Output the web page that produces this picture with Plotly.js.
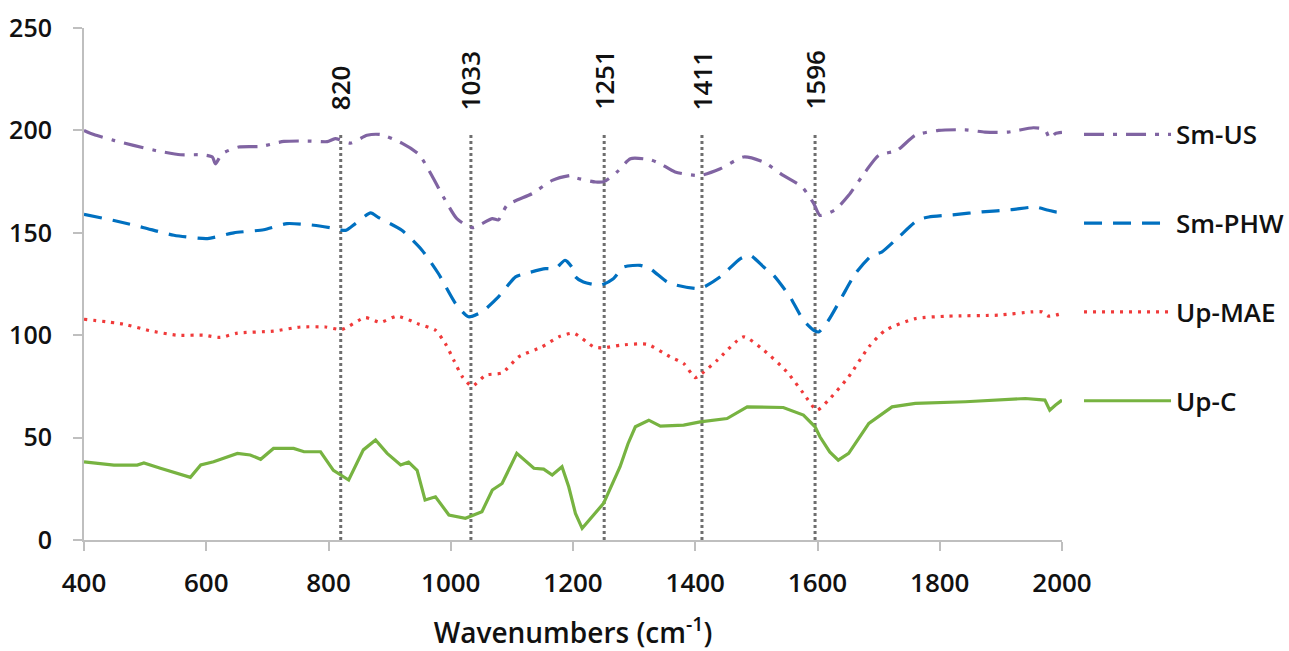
<!DOCTYPE html>
<html>
<head>
<meta charset="utf-8">
<script src="https://cdn.plot.ly/plotly-3.0.1.min.js"></script>
<style>html,body{margin:0;padding:0;background:#fff;}#chart{width:1289px;height:651px;}</style>
</head>
<body>
<div id="chart"></div>
<script>
// ---- data ----
var seriesNames = ["Sm-US", "Sm-PHW", "Up-MAE", "Up-C"];

var smUS_x = [400,416,450,481,517,558,593,610,615,626,653,689,727,770,798,811,836,863,885,920,948,969,988,1010,1035,1068,1078,1092,1133,1166,1198,1201,1237,1251,1272,1294,1326,1343,1367,1408,1441,1479,1512,1544,1575,1594,1604,1629,1651,1678,1700,1730,1760,1798,1842,1874,1912,1953,1972,1980,1989,2000];
var smUS_y = [200,198,195,192.7,190.2,188.1,188.1,187,183.7,188.6,191.9,192.2,194.6,194.8,194.5,196,193.8,197.6,198,193.8,188.3,178,167.5,156.9,152.5,156.9,156.3,163.4,169.1,175.6,178,177.2,174.8,175,179.7,186.2,185.7,183.7,179.7,178,181.3,187,184.5,178,172.3,164.2,158.5,161.3,168.3,179.7,187.8,190.2,197.6,200,200.3,199.2,199.2,201.3,200.5,196,198.4,199];

var smPHW_x = [400,449,498,547,602,645,694,732,776,803,828,844,869,882,920,953,980,1008,1029,1051,1078,1106,1122,1155,1171,1187,1198,1204,1217,1245,1266,1283,1310,1326,1354,1370,1408,1441,1474,1490,1512,1528,1555,1577,1594,1602,1618,1640,1662,1689,1705,1733,1765,1782,1825,1869,1918,1956,1978,1994,2000];
var smPHW_y = [159,156,152.5,148.8,147.2,150,151.5,154.5,153.7,152.5,151.2,154.5,159.7,157.4,151.2,141.5,130,115.4,109,111.4,118.7,128.5,130.1,132.5,132.5,136.6,133.3,128.5,126,124.4,127.6,133.3,134.1,132.5,126,124.4,122.8,128.5,137.4,139,133.3,129.3,118.7,107.3,102.4,101.6,107.3,118.7,130.1,139,140.6,148,156.4,157.7,158.9,160.2,161.3,162.6,161,160.2,164.2];

var upMAE_x = [400,465,509,552,596,623,651,710,754,795,822,860,885,912,948,975,991,1005,1019,1035,1057,1084,1111,1149,1177,1201,1234,1250,1277,1321,1359,1381,1400,1411,1436,1479,1512,1550,1577,1599,1618,1651,1684,1711,1760,1814,1896,1951,1967,1978,2000];
var upMAE_y = [107.8,105.4,102.1,100,100,98.9,101,102,104,104,102.8,108.6,106.3,109.3,105.4,102.4,96,87.8,79.7,75.1,80.5,81.6,89.4,94.3,99.2,101,94.3,93.8,95.1,95.6,89.4,86.2,79.3,81.3,87.8,99.2,92.7,82.1,71.6,63.4,68.3,79.7,94.3,102.4,108.1,109.3,109.8,111.4,111.4,109.3,110.6];

var upC_x = [400,449,487,498,525,552,574,591,612,651,672,689,710,743,760,787,808,833,857,877,896,918,931,945,958,975,997,1024,1051,1068,1084,1108,1136,1152,1166,1182,1193,1204,1215,1250,1277,1290,1302,1324,1343,1381,1408,1452,1485,1544,1577,1596,1604,1620,1634,1651,1684,1722,1760,1842,1940,1972,1980,1989,2000];
var upC_y = [38.2,36.6,36.6,37.6,35,32.5,30.6,36.6,38.2,42.3,41.5,39.4,44.7,44.7,43.1,43.1,34,29.3,44,48.8,42.3,36.6,38,34,19.5,21.1,12.2,10.6,13.8,24.4,27.6,42.3,35,34.6,31.7,35.8,26,13,5.7,17.9,35.8,47,55.3,58.5,55.6,56.1,57.7,59.3,65,64.7,61,55.3,50.4,43,39,42.3,56.9,65,66.7,67.5,69.1,68.3,63.4,65.8,68.3];

var peakPositions = [820, 1033, 1251, 1411, 1596];
var peakLabels = ["820", "1033", "1251", "1411", "1596"];
var xTickVals = [400, 600, 800, 1000, 1200, 1400, 1600, 1800, 2000];
var yTickVals = [0, 50, 100, 150, 200, 250];

// ---- styles ----
var FONT = "Open Sans, Lato, sans-serif";
var colors = ["#8064A2", "#0070C0", "#F03A3A", "#77B341"];
var dashes = ["20px,9px,4px,9px", "18px,11px", "3px,6px", "solid"];
var xs = [smUS_x, smPHW_x, upMAE_x, upC_x];
var ys = [smUS_y, smPHW_y, upMAE_y, upC_y];

var traces = [];
for (var i = 0; i < seriesNames.length; i++) {
  traces.push({
    type: "scatter", mode: "lines", name: seriesNames[i],
    x: xs[i], y: ys[i],
    legendgroup: "g" + i,
    line: {color: colors[i], width: 3.2, dash: dashes[i], shape: i < 3 ? "spline" : "linear", smoothing: 0.6},
    hoverinfo: "x+y+name"
  });
}

var shapes = peakPositions.map(function (p) {
  return {type: "line", xref: "x", yref: "y", x0: p, x1: p, y0: 0, y1: 199,
          line: {color: "#6E6E6E", width: 3, dash: "dot"}, layer: "below"};
});
var annotations = peakPositions.map(function (p, k) {
  return {x: p, y: 209, xref: "x", yref: "y", text: peakLabels[k], showarrow: false,
          textangle: -90, xanchor: "center", yanchor: "bottom",
          font: {family: FONT, size: 26, color: "#111", weight: 600}};
});

var layout = {
  width: 1289, height: 651,
  margin: {l: 83.5, r: 227, t: 28, b: 111, pad: 0, autoexpand: false},
  paper_bgcolor: "#fff", plot_bgcolor: "#fff",
  font: {family: FONT, color: "#111"},
  xaxis: {
    range: [400, 2000], tickvals: xTickVals, ticktext: xTickVals.map(String),
    showgrid: false, zeroline: false, showline: true, linecolor: "#BFBFBF", linewidth: 2,
    ticks: "outside", ticklen: 9, tickwidth: 2, tickcolor: "#BFBFBF",
    tickfont: {family: FONT, size: 26, color: "#111", weight: 600},
    ticklabelstandoff: 10,
    title: {text: "Wavenumbers (cm<sup>-1</sup>)", font: {family: FONT, size: 28, color: "#111", weight: 600}, standoff: 24}
  },
  yaxis: {
    range: [0, 250], tickvals: yTickVals, ticktext: yTickVals.map(String),
    showgrid: false, zeroline: false, showline: true, linecolor: "#BFBFBF", linewidth: 2,
    ticks: "outside", ticklen: 9, tickwidth: 2, tickcolor: "#BFBFBF",
    tickfont: {family: FONT, size: 25, color: "#111", weight: 600},
    ticklabelstandoff: 16
  },
  showlegend: true,
  legend: {
    x: 1.0174, y: 0.838, xanchor: "left", yanchor: "top",
    traceorder: "grouped", tracegroupgap: 52, itemwidth: 87,
    font: {family: FONT, size: 26, color: "#111", weight: 600},
    bgcolor: "rgba(0,0,0,0)"
  },
  shapes: shapes,
  annotations: annotations
};

Plotly.newPlot("chart", traces, layout, {displayModeBar: false, staticPlot: true});
</script>
</body>
</html>
